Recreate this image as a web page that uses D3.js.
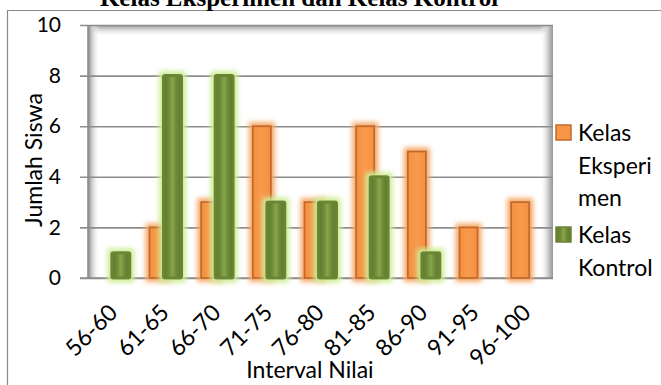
<!DOCTYPE html>
<html><head><meta charset="utf-8">
<script src="https://cdn.jsdelivr.net/npm/d3@7/dist/d3.min.js"></script>
<style>html,body{margin:0;padding:0;background:#fff;overflow:hidden}</style>
</head><body><svg id="c" width="661" height="385"></svg>
<script>
const categories = ["56-60","61-65","66-70","71-75","76-80","81-85","86-90","91-95","96-100"];
const eksperimen = [0,2,3,6,3,6,5,2,3];
const kontrol = [1,8,8,3,3,4,1,0,0];
const yTicks = [0,2,4,6,8,10];
const seriesNames = ["Kelas Eksperimen","Kelas Kontrol"];

const svg = d3.select("#c");
const W = 661, H = 385;
const L = 88, R = 553, T = 25, B = 278;
const font = "Lato, 'Open Sans', sans-serif";

const defs = svg.append("defs");
function glow(id, color, r, sd){
  const f = defs.append("filter").attr("id", id).attr("x","-60%").attr("y","-30%").attr("width","220%").attr("height","160%");
  f.append("feMorphology").attr("in","SourceAlpha").attr("operator","dilate").attr("radius", r).attr("result","d");
  f.append("feGaussianBlur").attr("in","d").attr("stdDeviation", sd).attr("result","b");
  f.append("feFlood").attr("flood-color", color).attr("result","c");
  f.append("feComposite").attr("in","c").attr("in2","b").attr("operator","in").attr("result","g");
  const m = f.append("feMerge");
  m.append("feMergeNode").attr("in","g");
  m.append("feMergeNode").attr("in","SourceGraphic");
}
glow("gOr", "#f3a867", 2.5, 2.5);
glow("gGr", "#cfee98", 2.5, 2.5);

function lin(id, x2, y2, stops){
  const g = defs.append("linearGradient").attr("id", id).attr("x1",0).attr("y1",0).attr("x2",x2).attr("y2",y2);
  stops.forEach(s => g.append("stop").attr("offset", s[0]).attr("stop-color", s[1]).attr("stop-opacity", s[2] == null ? 1 : s[2]));
}
lin("grFill", 1, 0, [[0,"#5c772b"],[0.3,"#6f8b37"],[0.5,"#88a64c"],[0.7,"#6f8b37"],[1,"#5c772b"]]);
lin("orFill", 1, 0, [[0,"#f59040"],[0.5,"#f89a4c"],[1,"#f59040"]]);
lin("wallL", 1, 0, [[0,"#8c8c8c"],[0.35,"#cfcfcf"],[1,"#ffffff",0]]);
lin("wallR", 1, 0, [[0,"#ffffff",0],[0.6,"#d0d0d0"],[1,"#959595"]]);
lin("wallT", 0, 1, [[0,"#9a9a9a"],[0.4,"#d8d8d8"],[1,"#ffffff",0]]);

// Chart frame
svg.append("path").attr("d", `M7.5,${H} V10.5 H${W}`).attr("fill","none").attr("stroke","#8a8a8a").attr("stroke-width",1.2);

// Title (cut off at top in the reference)
svg.append("text").attr("x", 299).attr("y", 6).attr("text-anchor","middle")
  .attr("font-family","'Liberation Serif','Times New Roman',serif").attr("font-weight","bold").attr("font-size",25)
  .attr("fill","#000").text("Kelas Eksperimen dan Kelas Kontrol");

const x = d3.scaleBand().domain(categories).range([L, R]);
const y = d3.scaleLinear().domain([0, 10]).range([B, T]);
const bw = x.bandwidth();

// Plot wall
svg.append("rect").attr("x", L).attr("y", T).attr("width", R-L).attr("height", B-T).attr("fill","#fff");
svg.append("rect").attr("x", L).attr("y", T).attr("width", R-L).attr("height", 12).attr("fill","url(#wallT)");
svg.append("rect").attr("x", L).attr("y", T).attr("width", 12).attr("height", B-T).attr("fill","url(#wallL)");
svg.append("rect").attr("x", R-13).attr("y", T).attr("width", 13).attr("height", B-T).attr("fill","url(#wallR)");

// Gridlines & ticks
const yAxis = d3.axisLeft(y).tickValues(yTicks).tickSizeInner(-(R-L)).tickSizeOuter(0).tickPadding(27).tickFormat(d3.format("d"));
const gy = svg.append("g").attr("transform", `translate(${L},0)`).call(yAxis);
gy.select(".domain").remove();
gy.selectAll(".tick line").attr("x1", -8).attr("stroke","#8c8c8c").attr("stroke-width",1.6);
gy.selectAll(".tick text").attr("font-family", font).attr("font-size",21).attr("fill","#000");

// Axis lines
svg.append("line").attr("x1", L).attr("x2", L).attr("y1", T).attr("y2", B).attr("stroke","#8c8c8c").attr("stroke-width",1.6);
svg.append("line").attr("x1", L-8).attr("x2", R).attr("y1", B).attr("y2", B).attr("stroke","#8c8c8c").attr("stroke-width",1.6);

// Bars
const barW = bw * 0.35;
const offE = bw * 0.5 - bw * 0.31;
const offK = bw * 0.5 - bw * 0.04;
const eData = categories.map((c,i) => ({c, v: eksperimen[i]})).filter(d => d.v > 0);
const kData = categories.map((c,i) => ({c, v: kontrol[i]})).filter(d => d.v > 0);

svg.append("g").selectAll("rect").data(eData).join("rect")
  .attr("x", d => x(d.c) + offE).attr("y", d => y(d.v)).attr("width", barW).attr("height", d => y(0) - y(d.v))
  .attr("fill","url(#orFill)").attr("stroke","#c4692a").attr("stroke-width",1.8).attr("filter","url(#gOr)");

svg.append("g").selectAll("rect").data(kData).join("rect")
  .attr("x", d => x(d.c) + offK).attr("y", d => y(d.v)).attr("width", barW).attr("height", d => y(0) - y(d.v))
  .attr("rx", 1.5)
  .attr("fill","url(#grFill)").attr("stroke","#6a8634").attr("stroke-width",3).attr("filter","url(#gGr)");

// X labels
svg.append("g").selectAll("text").data(categories).join("text")
  .attr("transform", d => `translate(${x(d) + bw/2 + 5},${B + 36}) rotate(-45)`)
  .attr("text-anchor","end")
  .attr("font-family", font).attr("font-size",23).attr("fill","#000").text(d => d);

// Axis titles
svg.append("text").attr("x", 310).attr("y", 378).attr("text-anchor","middle")
  .attr("font-family", font).attr("font-size",23).attr("fill","#000").text("Interval Nilai");
svg.append("text").attr("transform","translate(42,160) rotate(-90)").attr("text-anchor","middle")
  .attr("font-family", font).attr("font-size",23).attr("fill","#000").text("Jumlah Siswa");

// Legend
const leg = [
  {name: seriesNames[0], lines: ["Kelas","Eksperi","men"], y: 141, fill: "#f79646", stroke: "#c4692a"},
  {name: seriesNames[1], lines: ["Kelas","Kontrol"], y: 243, fill: "url(#grFill)", stroke: "#6a8634"}
];
const lg = svg.append("g");
leg.forEach(l => {
  lg.append("rect").attr("x", 556).attr("y", l.y - 16).attr("width", 15).attr("height", 15)
    .attr("fill", l.fill).attr("stroke", l.stroke).attr("stroke-width", 1.5);
  const t = lg.append("text").attr("x", 578).attr("y", l.y).attr("font-family", font).attr("font-size",23).attr("fill","#000");
  l.lines.forEach((s,i) => t.append("tspan").attr("x", 578).attr("dy", i ? 32.5 : 0).text(s));
});
</script></body></html>
